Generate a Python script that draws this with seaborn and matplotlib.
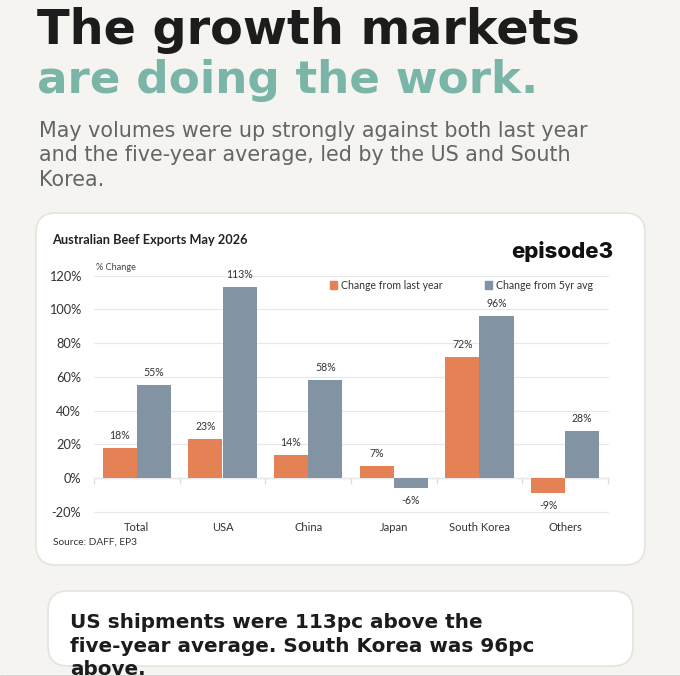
import numpy as np
import pandas as pd
import seaborn as sns
import matplotlib.pyplot as plt
from matplotlib.patches import FancyBboxPatch

markets = ["Total", "USA", "China", "Japan", "South Korea", "Others"]
last_year = [18, 23, 14, 7, 72, -9]
five_yr = [55, 113, 58, -6, 96, 28]
y_ticks = [-20, 0, 20, 40, 60, 80, 100, 120]

ORANGE = "#E58255"
SLATE = "#8293A3"
GRID = "#E6E8EA"
BG = "#F5F4F1"
CHART_FONT = ["Lato", "DejaVu Sans"]

df = pd.DataFrame({
    "market": markets * 2,
    "change": last_year + five_yr,
    "series": ["Change from last year"] * 6 + ["Change from 5yr avg"] * 6,
})

sns.set_theme(style="white")
plt.rcParams["font.family"] = ["DejaVu Sans"]

W, H = 680, 676
fig = plt.figure(figsize=(W / 100, H / 100), dpi=100, facecolor=BG)

# page furniture, in pixel coordinates
bg = fig.add_axes([0, 0, 1, 1])
bg.set_xlim(0, W)
bg.set_ylim(H, 0)
bg.axis("off")


def card(x0, y0, x1, y1, r):
    bg.add_patch(FancyBboxPatch((x0 + r, y0 + r), x1 - x0 - 2 * r, y1 - y0 - 2 * r,
                                boxstyle=f"round,pad={r},rounding_size={r}",
                                fc="white", ec="#E3E3E0", lw=1.2))


bg.text(37, 31, "The growth markets", fontsize=34.4, fontweight="bold", color="#1C1C1C", va="center")
bg.text(37, 80, "are doing the work.", fontsize=32.6, fontweight="bold", color="#7AB5A8", va="center")
for y, line in zip([131, 155, 180],
                   ["May volumes were up strongly against both last year",
                    "and the five-year average, led by the US and South",
                    "Korea."]):
    bg.text(39, y, line, fontsize=14.9, color="#626664", va="center")

card(36, 213, 645, 565, 20)
card(48, 591, 633, 666, 20)

for y, line in zip([628, 652, 675],
                   ["US shipments were 113pc above the",
                    "five-year average. South Korea was 96pc",
                    "above."]):
    bg.text(70, y, line, fontsize=14.45, fontweight="bold", color="#1C1C1C", va="baseline")
bg.axhline(675.5, color="#555555", lw=1)

bg.text(52.5, 240, "Australian Beef Exports May 2026", fontsize=9.2, fontweight="bold",
        family=CHART_FONT, color="#222222", va="center")
bg.text(96, 268, "% Change", fontsize=6.6, family=CHART_FONT, color="#444444", va="center")
bg.text(53, 542, "Source: DAFF, EP3", fontsize=7.3, family=CHART_FONT, color="#333333", va="center")
bg.text(511, 252, "episode3", fontsize=16, fontweight="heavy", family=["Inter", "DejaVu Sans"],
        color="#111111", va="center")

# the chart
ax = fig.add_axes([94 / W, 1 - 512 / H, 514 / W, 236.5 / H])
ax.patch.set_alpha(0)
sns.barplot(data=df, x="market", y="change", hue="series", order=markets,
            palette=[ORANGE, SLATE], width=0.8, gap=0, saturation=1, linewidth=0,
            ax=ax, legend=False)
ax.set_xlim(-0.5, 5.5)
ax.set_ylim(-20, 120)
ax.set_xlabel("")
ax.set_ylabel("")
ax.set_yticks(y_ticks)
ax.set_yticklabels([f"{v}%" for v in y_ticks], fontsize=9.2, family=CHART_FONT, color="#333333")
ax.set_xticks(range(len(markets)))
ax.set_xticklabels(markets, fontsize=8, family=CHART_FONT, color="#333333")
ax.tick_params(axis="both", length=0)
ax.tick_params(axis="x", pad=7.2)
ax.tick_params(axis="y", pad=9.4)
ax.grid(axis="y", color=GRID, lw=0.9)
for line in ax.get_ygridlines():
    line.set_clip_on(False)
ax.set_axisbelow(True)
sns.despine(ax=ax, left=True, top=True, right=True, bottom=True)

for c in ax.containers:
    ax.bar_label(c, fmt="%d%%", padding=5, fontsize=7.6, family=CHART_FONT, color="#333333")

# zero line with ticks between the categories
zero = ax.secondary_xaxis(20 / 140)
zero.set_xticks(np.arange(-0.5, 6))
zero.set_xticklabels([])
zero.tick_params(length=4, color="#DADDE0", width=0.9)
zero.spines["bottom"].set_color("#DADDE0")
zero.spines["bottom"].set_linewidth(0.9)

# legend
leg_handles = [plt.Rectangle((0, 0), 1, 1, color=ORANGE), plt.Rectangle((0, 0), 1, 1, color=SLATE)]
ax.legend(leg_handles, ["Change from last year", "Change from 5yr avg"], ncol=2, frameon=False,
          loc="center", bbox_to_anchor=(0.7146, 1 - 9.5 / 236.5), handlelength=0.7, handleheight=0.7,
          handletextpad=0.35, columnspacing=3.98,
          prop={"family": CHART_FONT, "size": 7.6}, labelcolor="#333333")

fig.savefig("out.png", dpi=100, facecolor=BG)
